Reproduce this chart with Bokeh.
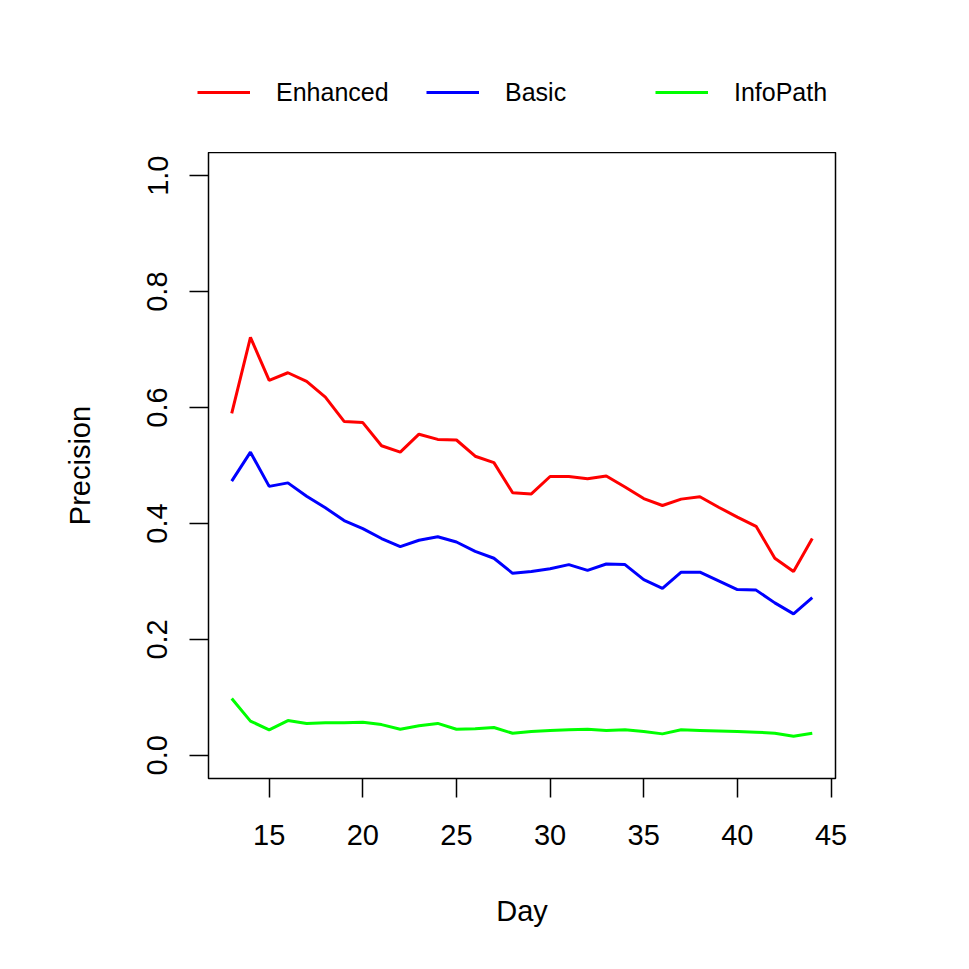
from bokeh.plotting import figure
from bokeh.models import Range1d, FixedTicker, Legend, LegendItem
from bokeh.layouts import column, row
from bokeh.embed import file_html
from bokeh.resources import INLINE

days = [13, 14, 15, 16, 17, 18, 19, 20, 21, 22, 23, 24, 25, 26, 27, 28,
        29, 30, 31, 32, 33, 34, 35, 36, 37, 38, 39, 40, 41, 42, 43, 44]
enhanced = [0.590, 0.721, 0.647, 0.660, 0.645, 0.618, 0.576, 0.574, 0.534, 0.523,
            0.554, 0.545, 0.544, 0.516, 0.505, 0.453, 0.451, 0.481, 0.481, 0.477,
            0.482, 0.463, 0.443, 0.431, 0.442, 0.446, 0.428, 0.411, 0.395, 0.340,
            0.317, 0.374]
basic = [0.473, 0.523, 0.464, 0.470, 0.447, 0.427, 0.405, 0.391, 0.374, 0.360,
         0.371, 0.377, 0.368, 0.352, 0.340, 0.314, 0.317, 0.322, 0.329, 0.319,
         0.330, 0.329, 0.303, 0.288, 0.316, 0.316, 0.301, 0.286, 0.285, 0.263,
         0.244, 0.272]
infopath = [0.098, 0.059, 0.044, 0.060, 0.055, 0.056, 0.056, 0.057, 0.053, 0.045,
            0.051, 0.055, 0.045, 0.046, 0.048, 0.038, 0.041, 0.043, 0.044, 0.045,
            0.043, 0.044, 0.041, 0.037, 0.044, 0.043, 0.042, 0.041, 0.040, 0.038,
            0.033, 0.038]
series_names = ["Enhanced", "Basic", "InfoPath"]
series_colors = ["#ff0000", "#0000ff", "#00ff00"]
x_ticks = [15, 20, 25, 30, 35, 40, 45]
y_ticks = [0.0, 0.2, 0.4, 0.6, 0.8, 1.0]
y_tick_labels = ["0.0", "0.2", "0.4", "0.6", "0.8", "1.0"]

FONT = "Liberation Sans"
series_values = [enhanced, basic, infopath]

# ---- legend strip (top); its lines lie outside its ranges, only the legend shows ----
leg = figure(width=969, height=152, output_backend="svg", toolbar_location=None,
             x_range=Range1d(0, 1), y_range=Range1d(0, 1),
             x_axis_type=None, y_axis_type=None,
             min_border_left=0, min_border_right=0, min_border_top=0,
             min_border_bottom=0)
leg.outline_line_color = None
leg.grid.visible = False
leg.background_fill_color = "white"
leg.border_fill_color = "white"
leg_renderers = [leg.line(days, v, line_color=c, line_width=3)
                 for v, c in zip(series_values, series_colors)]
items = [LegendItem(label=n, renderers=[r]) for n, r in zip(series_names, leg_renderers)]
legend = Legend(items=items, orientation="horizontal", location=(197, 45),
                glyph_width=53, glyph_height=30, label_height=30, label_width=150,
                label_standoff=26, spacing=0, padding=0, margin=0,
                label_text_font=FONT, label_text_font_size="25px",
                label_text_color="black", border_line_color=None,
                background_fill_alpha=0)
leg.add_layout(legend, "center")

# ---- main plot ----
p = figure(width=969, height=817, output_backend="svg", toolbar_location=None,
           x_range=Range1d(11.76, 45.24), y_range=Range1d(-0.04, 1.04),
           min_border_left=208, min_border_right=134, min_border_top=0,
           min_border_bottom=191)
p.background_fill_color = "white"
p.border_fill_color = "white"
p.outline_line_color = "black"
p.outline_line_width = 1.5
p.grid.visible = False

for vals, col in zip(series_values, series_colors):
    p.line(days, vals, line_color=col, line_width=3)

for ax in [p.xaxis[0], p.yaxis[0]]:
    ax.axis_line_color = None
    ax.major_tick_line_color = "black"
    ax.major_tick_line_width = 1.5
    ax.major_tick_out = 19
    ax.major_tick_in = 0
    ax.minor_tick_line_color = None
    ax.major_label_text_font = FONT
    ax.major_label_text_font_size = "29px"
    ax.major_label_text_color = "black"
    ax.axis_label_text_font = FONT
    ax.axis_label_text_font_size = "29px"
    ax.axis_label_text_font_style = "normal"
    ax.axis_label_text_color = "black"

p.xaxis.ticker = FixedTicker(ticks=x_ticks)
p.xaxis.axis_label = "Day"
p.xaxis.major_label_standoff = 27
p.xaxis.axis_label_standoff = 47

p.yaxis.ticker = FixedTicker(ticks=y_ticks)
p.yaxis.major_label_overrides = {t: s for t, s in zip(y_ticks, y_tick_labels)}
p.yaxis.major_label_orientation = "vertical"
p.yaxis.axis_label = "Precision"
p.yaxis.major_label_standoff = 22
p.yaxis.axis_label_standoff = 49

layout = column(row(leg, spacing=0), p, spacing=0)
open("out.html", "w").write(file_html(layout, INLINE))
